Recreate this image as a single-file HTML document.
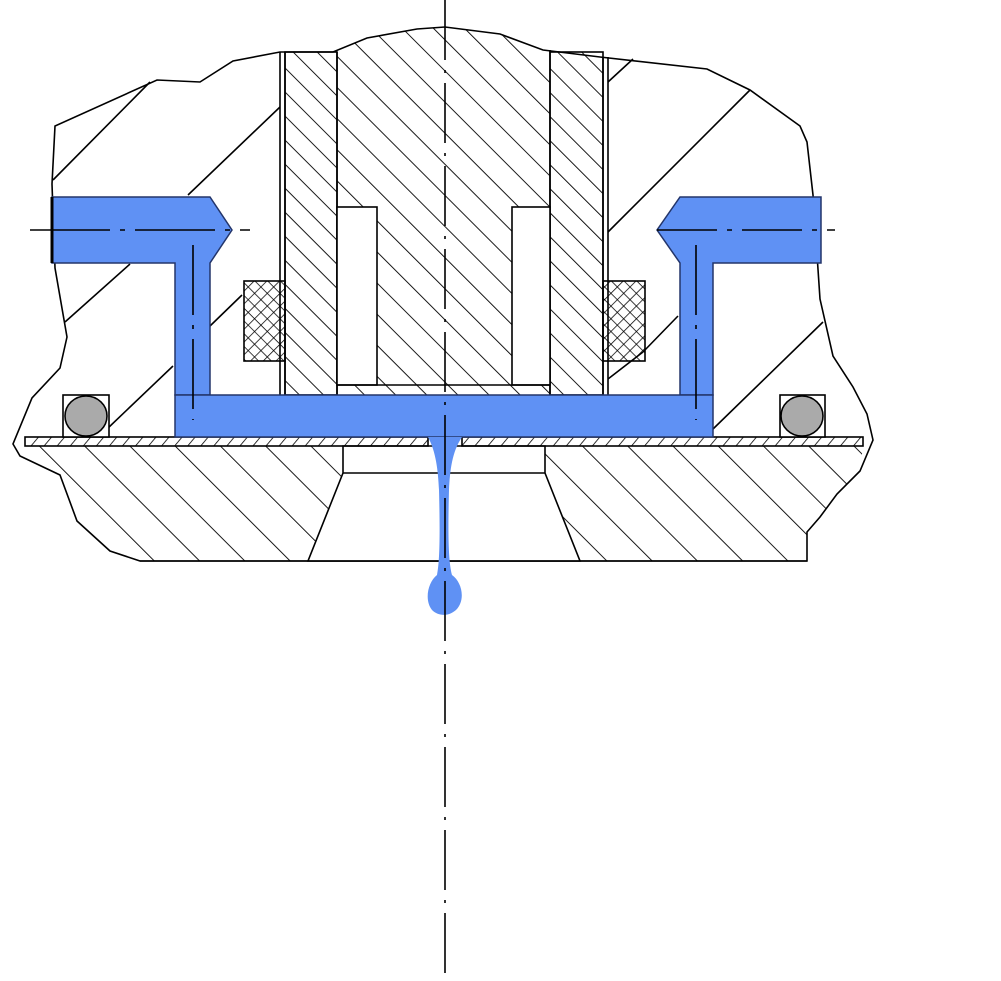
<!DOCTYPE html>
<html><head><meta charset="utf-8"><style>html,body{margin:0;padding:0;background:#fff}svg{display:block}</style></head>
<body>
<svg width="1001" height="981" viewBox="0 0 1001 981" xmlns="http://www.w3.org/2000/svg">
<defs>
<pattern id="hs" width="17" height="17" patternUnits="userSpaceOnUse" patternTransform="rotate(-45)"><line x1="0" y1="0" x2="0" y2="17" stroke="#000" stroke-width="1.8"/></pattern>
<pattern id="hc" width="22" height="22" patternUnits="userSpaceOnUse" patternTransform="rotate(-45)"><line x1="0" y1="0" x2="0" y2="22" stroke="#000" stroke-width="1.8"/></pattern>
<pattern id="hb" width="32" height="32" patternUnits="userSpaceOnUse" patternTransform="rotate(-45)"><line x1="0" y1="0" x2="0" y2="32" stroke="#000" stroke-width="1.8"/></pattern>
<pattern id="hp" width="10" height="10" patternUnits="userSpaceOnUse" patternTransform="rotate(40)"><line x1="0" y1="0" x2="0" y2="10" stroke="#000" stroke-width="1.6"/></pattern>
<pattern id="hx" width="9" height="9" patternUnits="userSpaceOnUse" patternTransform="rotate(45)"><path d="M0 0V9M0 0H9" stroke="#000" stroke-width="1.5" fill="none"/></pattern>
</defs>
<g fill="none" stroke="#000" stroke-width="1.6">
<path d="M140 561 L110 551 L77 521 L60 475 L20 456 L13 444 L32 398 L60 368 L67 337 L55 268 L52 184 L55 126 L157 80 L200 82 L233 61 L280 52 L333 52 L367 38 L417 29 L445 27 L500 34 L543 50 L600 57 L707 69 L750 90 L800 126 L807 142 L813 195 L820 299 L833 356 L853 387 L867 414 L873 440 L860 471 L837 494 L820 517 L807 532 L807 561 Z" fill="#fff"/>
<path d="M25 446 L863 446 L860 471 L837 494 L820 517 L807 532 L807 561 L140 561 L110 551 L77 521 L60 475 L20 456 L25 446 Z" fill="url(#hb)" stroke="none"/>
<path d="M343 446 H545 V473 L580 561 H308 L343 473 Z" fill="#fff"/>
<line x1="343" y1="473" x2="545" y2="473"/>
<line x1="140" y1="561" x2="807" y2="561"/>
<line x1="150" y1="82" x2="53" y2="180"/><line x1="280" y1="107" x2="188" y2="195"/>
<line x1="130" y1="264" x2="65" y2="322"/><line x1="242" y1="295" x2="210" y2="326"/>
<line x1="173" y1="366" x2="107" y2="429"/>
<line x1="750" y1="90" x2="608" y2="232"/><line x1="633" y1="59" x2="608" y2="82"/>
<line x1="678" y1="316" x2="643" y2="352"/><line x1="643" y1="352" x2="608" y2="379"/>
<line x1="823" y1="322" x2="713" y2="429"/>
<rect x="285" y="52" width="52" height="343" fill="url(#hs)"/>
<rect x="550" y="52" width="53" height="343" fill="url(#hs)"/>
<path d="M337 52 L333 52 L367 38 L417 29 L445 27 L500 34 L543 50 L550 52 V395 H337 Z" fill="url(#hc)" stroke="none"/>
<line x1="337" y1="52" x2="337" y2="395"/><line x1="550" y1="50" x2="550" y2="395"/>
<line x1="280" y1="52" x2="280" y2="395"/><line x1="285" y1="52" x2="285" y2="395"/>
<line x1="603" y1="57" x2="603" y2="395"/><line x1="608" y1="57" x2="608" y2="395"/>
<rect x="337" y="207" width="40" height="178" fill="#fff"/>
<rect x="512" y="207" width="38" height="178" fill="#fff"/>
<line x1="337" y1="385" x2="550" y2="385"/>
<rect x="244" y="281" width="41" height="80" fill="url(#hx)"/>
<rect x="603" y="281" width="42" height="80" fill="url(#hx)"/>
<rect x="25" y="437" width="403" height="9" fill="url(#hp)"/>
<rect x="462" y="437" width="401" height="9" fill="url(#hp)"/>
<rect x="63" y="395" width="46" height="42" fill="#fff"/>
<ellipse cx="86" cy="416" rx="21" ry="20" fill="#aaa"/>
<rect x="780" y="395" width="45" height="42" fill="#fff"/>
<ellipse cx="802" cy="416" rx="21" ry="20" fill="#aaa"/>
</g>
<g fill="#5f91f4" stroke="#23356a" stroke-width="1.5">
<path d="M52 197 H210 L232 230 L210 263 V395 H175 V263 H52 Z"/>
<path d="M821 197 H680 L657 230 L680 263 V395 H713 V263 H821 Z"/>
<rect x="175" y="395" width="538" height="42"/>
</g>
<path d="M428 437 H462 C452 452 450 470 449 490 C448 530 448 560 452 575 C462 582 466 600 456 610 C448 617 438 616 432 610 C424 600 428 582 437 575 C440 560 440 530 439 490 C438 470 436 452 428 437 Z" fill="#5f91f4"/>
<g stroke="#000" stroke-width="1.6" fill="none">
<line x1="445" y1="0" x2="445" y2="975" stroke-dasharray="60 10 3 10"/>
<line x1="30" y1="230" x2="250" y2="230" stroke-dasharray="80 10 5 10"/>
<line x1="657" y1="230" x2="835" y2="230" stroke-dasharray="60 10 5 10"/>
<line x1="193" y1="245" x2="193" y2="420" stroke-dasharray="70 10 4 10"/>
<line x1="696" y1="245" x2="696" y2="420" stroke-dasharray="70 10 4 10"/>
<line x1="52" y1="197" x2="52" y2="263" stroke-width="3"/>
</g>
</svg>
</body></html>
